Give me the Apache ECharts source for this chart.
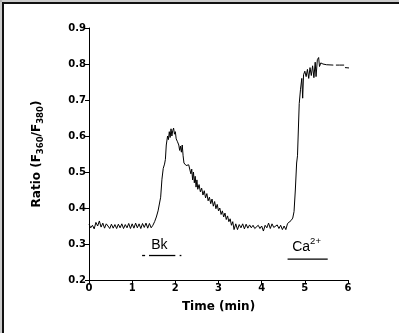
<!DOCTYPE html>
<html>
<head>
<meta charset="utf-8">
<script src="https://cdn.jsdelivr.net/npm/echarts@6/dist/echarts.min.js"></script>
<style>
html,body{margin:0;padding:0;background:#fff;}
#chart{width:399px;height:333px;}
</style>
</head>
<body>
<div id="chart"></div>
<script>
// ---- data ----
var xTickLabels = ['0', '1', '2', '3', '4', '5', '6'];
var yTickLabels = ['0.2', '0.3', '0.4', '0.5', '0.6', '0.7', '0.8', '0.9'];

// Fluorescence ratio trace: [time (min), ratio]
var ratioTrace = [
  [0.00,0.355],[0.04,0.345],[0.08,0.352],[0.12,0.342],[0.16,0.360],[0.20,0.350],[0.24,0.364],
  [0.28,0.347],[0.32,0.358],[0.36,0.344],[0.40,0.356],[0.44,0.350],[0.48,0.343],[0.52,0.355],
  [0.56,0.344],[0.60,0.354],[0.64,0.343],[0.68,0.355],[0.72,0.345],[0.76,0.356],[0.80,0.343],
  [0.84,0.354],[0.88,0.345],[0.92,0.357],[0.96,0.343],[1.00,0.356],[1.04,0.344],[1.08,0.358],
  [1.12,0.345],[1.16,0.356],[1.20,0.343],[1.24,0.357],[1.28,0.346],[1.32,0.358],[1.36,0.344],
  [1.40,0.357],[1.44,0.345],[1.48,0.352],
  [1.52,0.362],[1.56,0.375],[1.60,0.392],[1.63,0.388],[1.66,0.430],[1.69,0.480],[1.72,0.510],
  [1.75,0.522],[1.77,0.535],[1.79,0.575],[1.82,0.600],[1.84,0.590],[1.86,0.612],[1.88,0.596],
  [1.90,0.620],[1.92,0.600],[1.94,0.615],[1.96,0.622],[1.98,0.605],[2.00,0.612],[2.02,0.592],
  [2.05,0.584],[2.08,0.575],[2.10,0.560],[2.12,0.572],[2.14,0.555],[2.16,0.575],[2.18,0.545],
  [2.20,0.525],[2.22,0.530],[2.25,0.518],[2.28,0.522],[2.31,0.520],[2.34,0.518],[2.36,0.495],
  [2.38,0.508],[2.40,0.478],[2.42,0.500],[2.44,0.470],[2.46,0.488],[2.48,0.458],[2.50,0.478],
  [2.52,0.452],[2.55,0.465],[2.58,0.445],[2.61,0.455],[2.64,0.436],[2.67,0.448],[2.70,0.428],
  [2.73,0.440],[2.76,0.420],[2.79,0.430],[2.82,0.412],[2.85,0.425],[2.88,0.405],[2.91,0.418],
  [2.94,0.398],[2.97,0.410],[3.00,0.392],[3.03,0.400],[3.06,0.382],[3.09,0.392],[3.12,0.375],
  [3.15,0.386],[3.18,0.368],[3.21,0.378],[3.24,0.362],[3.27,0.370],[3.30,0.352],[3.33,0.362],
  [3.36,0.340],
  [3.40,0.356],[3.44,0.340],[3.48,0.354],[3.52,0.345],[3.56,0.356],[3.60,0.342],[3.64,0.355],
  [3.68,0.344],[3.72,0.353],[3.76,0.345],[3.80,0.352],[3.84,0.343],[3.88,0.340],[3.92,0.352],
  [3.96,0.343],[4.00,0.350],[4.04,0.336],[4.08,0.352],[4.12,0.345],[4.16,0.358],[4.20,0.343],
  [4.24,0.356],[4.28,0.346],[4.32,0.344],[4.36,0.353],[4.40,0.343],[4.44,0.352],[4.48,0.340],
  [4.52,0.350],[4.56,0.340],[4.60,0.357],[4.64,0.352],[4.68,0.365],[4.72,0.372],[4.75,0.390],
  [4.78,0.450],[4.81,0.525],[4.83,0.545],[4.87,0.690],[4.90,0.730],[4.93,0.760],[4.95,0.705],
  [4.97,0.770],[5.00,0.780],[5.03,0.765],[5.06,0.785],[5.09,0.760],[5.12,0.790],[5.15,0.768],
  [5.18,0.795],[5.21,0.762],[5.24,0.805],[5.26,0.765],[5.29,0.812],[5.32,0.818],[5.34,0.793],
  [5.37,0.803],[5.42,0.800],[5.50,0.798],[5.66,0.797],[5.69,null],[5.72,0.797],[5.80,0.797],
  [5.91,0.797],[5.92,null],[5.93,0.790],[6.03,0.789]
];

// Application bars (stimulus periods)
var bkBar = [[1.39,0.268],[2.00,0.268]];
var bkDashLeft = [[1.23,0.268],[1.30,0.268]];
var bkDashRight = [[2.10,0.268],[2.14,0.268]];
var caBar = [[4.60,0.258],[5.53,0.258]];

// Annotation label anchors [time, ratio]
var bkLabel = [[1.63,0.297]];
var caLabel = [[5.04,0.296]];

var FONT = 'DejaVu Sans';
var chart = echarts.init(document.getElementById('chart'), null, {renderer:'canvas'});

function barSeries(data){
  return {type:'line', data:data, symbol:'none', silent:true, clip:false,
    lineStyle:{color:'#000', width:1.3}, animation:false};
}

chart.setOption({
  animation:false,
  backgroundColor:'#fff',
  grid:{left:89, right:51, top:28, bottom:53, containLabel:false},
  xAxis:{
    type:'value', min:0, max:6, interval:1,
    name:'Time (min)', nameLocation:'middle', nameGap:21,
    nameTextStyle:{fontFamily:FONT, fontWeight:'bold', fontSize:12, color:'#000'},
    axisLine:{lineStyle:{color:'#000', width:1}},
    axisTick:{length:4, lineStyle:{color:'#000'}},
    axisLabel:{margin:3, fontFamily:FONT, fontWeight:'bold', fontSize:10, color:'#000',
      formatter:function(v){ return xTickLabels[Math.round(v)]; }},
    splitLine:{show:false}
  },
  yAxis:{
    type:'value', min:0.2, max:0.9, interval:0.1,
    name:'{a|Ratio (F}{s|360}{a|/F}{s|380}{a|)}', nameLocation:'middle', nameRotate:90, nameGap:44,
    nameTextStyle:{
      rich:{
        a:{fontFamily:FONT, fontWeight:'bold', fontSize:12, color:'#000', lineHeight:16, verticalAlign:'middle'},
        s:{fontFamily:FONT, fontWeight:'bold', fontSize:8.5, color:'#000', lineHeight:10, verticalAlign:'bottom'}
      }
    },
    axisLine:{show:true, lineStyle:{color:'#000', width:1}},
    axisTick:{show:true, length:4, lineStyle:{color:'#000'}},
    axisLabel:{margin:3, fontFamily:FONT, fontWeight:'bold', fontSize:10, color:'#000',
      formatter:function(v){ return yTickLabels[Math.round((v-0.2)*10)]; }},
    splitLine:{show:false}
  },
  series:[
    {type:'line', data:ratioTrace, symbol:'none', connectNulls:false, clip:false,
      lineStyle:{color:'#000', width:1}},
    barSeries(bkBar), barSeries(bkDashLeft), barSeries(bkDashRight), barSeries(caBar),
    {type:'scatter', data:bkLabel, symbolSize:0, silent:true, itemStyle:{opacity:1},
      label:{show:true, position:'inside', formatter:'Bk', opacity:1, textBorderWidth:0,
        fontFamily:'Liberation Sans', fontSize:14, color:'#000'}},
    {type:'scatter', data:caLabel, symbolSize:0, silent:true, itemStyle:{opacity:1},
      label:{show:true, position:'inside', formatter:'{c|Ca}{p|2+}', opacity:1, textBorderWidth:0,
        rich:{
          c:{fontFamily:'Liberation Sans', fontSize:14, color:'#000', lineHeight:18, verticalAlign:'bottom', textBorderWidth:0},
          p:{fontFamily:'Liberation Sans', fontSize:9.5, color:'#000', lineHeight:18, verticalAlign:'top', textBorderWidth:0}
        }}}
  ],
  graphic:[
    {type:'rect', shape:{x:3, y:3, width:600, height:600}, style:{fill:null, stroke:'#111', lineWidth:2}, silent:true},
    {type:'line', shape:{x1:0, y1:1, x2:399, y2:1}, style:{stroke:'#999', lineWidth:1}, silent:true},
    {type:'line', shape:{x1:1, y1:0, x2:1, y2:333}, style:{stroke:'#999', lineWidth:1}, silent:true}
  ]
});
</script>
</body>
</html>
